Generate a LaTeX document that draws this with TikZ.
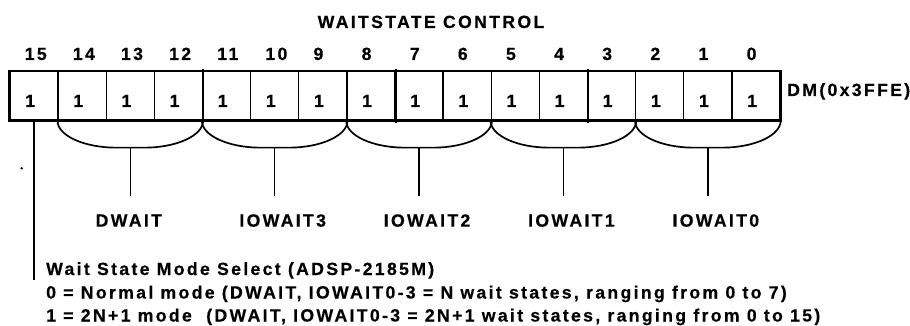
\documentclass[tikz,border=0pt]{standalone}
\usepackage{fontspec}
\usetikzlibrary{calc}
\newfontfamily\lblfont{Liberation Sans}[LetterSpace=13, BoldFeatures={FakeBold=0.4}]
\tikzset{
  txt/.style={inner sep=0pt, font=\lblfont\bfseries\fontsize{17.7}{20}\selectfont},
  cell/.style={draw, line width=1.3pt, minimum width=48.125pt, minimum height=48.3pt, inner sep=0pt},
  brace/.style={line width=1.7pt},
  stem/.style={line width=1.5pt},
  frame/.style={line width=2.5pt},
  nibble/.style={line width=2.3pt},
  selline/.style={line width=2pt},
}
\begin{document}
\begin{tikzpicture}[x=1pt,y=-1pt]
\useasboundingbox (0,0) rectangle (910,326);
\node[txt, anchor=base] (title) at (431,28) {WAITSTATE CONTROL};
\foreach \i in {0,...,15}{
  \pgfmathtruncatemacro\bitno{15-\i}
  \node[cell] (c\bitno) at ({34.0625+\i*48.125},95.85) {};
  \node[txt, anchor=base west] (n\bitno) at ({34.0625+\i*48.125-9.5},60) {\bitno};
  \node[txt, anchor=base west] (v\bitno) at ({34.0625+\i*48.125-9},107) {1};
}
\draw[frame] (c15.north west) rectangle (c0.south east);
\foreach \k in {12,8,4}
  \draw[nibble] ([yshift=2pt]c\k.north east) -- ([yshift=-2pt]c\k.south east);
\node[txt, anchor=base west] (dm) at (787,96) {DM(0x3FFE)};
\foreach \l/\r/\nm/\lab/\dx in {14/12/dw/DWAIT/-1.5, 11/9/ioc/IOWAIT3/8, 8/6/iob/IOWAIT2/8, 5/3/ioa/IOWAIT1/8, 2/0/ioz/IOWAIT0/8}{
  \draw[brace] let \p1=(c\l.south west), \p2=(c\r.south east), \n1={(\x2-\x1)/2-14pt} in
    (\p1) .. controls (\x1,\y1-14.9pt) and ({\x1+0.448*\n1},\y1-27pt) .. ({\x1+\n1},\y1-27pt)
    -- ({\x2-\n1},\y1-27pt) .. controls ({\x2-0.448*\n1},\y1-27pt) and (\x2,\y1-14.9pt) .. (\p2);
  \path let \p1=(c\l.south west), \p2=(c\r.south east) in coordinate (m\nm) at ({(\x1+\x2)/2},\y1-27pt);
  \draw[stem] (m\nm) -- ++(0,48) coordinate (e\nm);
  \node[txt, anchor=base] (lab\nm) at ($(m\nm)+(\dx,79)$) {\lab};
}
\draw[selline] (c15.south) -- ++(0,159) coordinate (selend);
\fill (21.7,168.3) circle (1.3pt);
\node[txt, anchor=base west] (t1) at (46,275) {Wait State Mode Select (ADSP-2185M)};
\node[txt, anchor=base west] (t2) at (46,298.5) {0 = Normal mode (DWAIT, IOWAIT0-3 = N wait states, ranging from 0 to 7)};
\node[txt, anchor=base west] (t3) at (46,321.5) {1 = 2N+1 mode\ \ (DWAIT, IOWAIT0-3 = 2N+1 wait states, ranging from 0 to 15)};
\end{tikzpicture}
\end{document}
